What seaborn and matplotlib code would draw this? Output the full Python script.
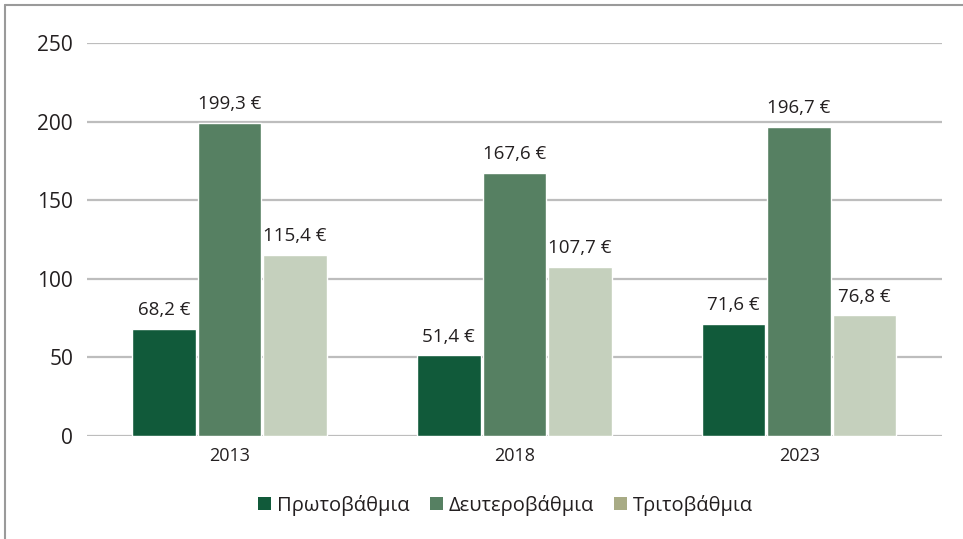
import seaborn as sns
import matplotlib.pyplot as plt
import pandas as pd
from matplotlib.lines import Line2D
from matplotlib.patches import Patch

## Data
years = ['2013', '2018', '2023']
series = ['Πρωτοβάθμια', 'Δευτεροβάθμια', 'Τριτοβάθμια']
primary = [68.2, 51.4, 71.6]
secondary = [199.3, 167.6, 196.7]
tertiary = [115.4, 107.7, 76.8]

bar_colors = ['#115a3a', '#568062', '#c5d0bd']
legend_colors = ['#115a3a', '#568062', '#a8ab85']
text_color = '#231f20'

df = pd.DataFrame({'year': years * 3,
                   'level': [s for s in series for _ in years],
                   'value': primary + secondary + tertiary})

sns.set_style('white')
plt.rcParams['font.family'] = ['Open Sans', 'DejaVu Sans']

fig = plt.figure(figsize=(9.63, 5.39), dpi=100)
ax = fig.add_axes([0.0903, 0.191, 0.8875, 0.729])

sns.barplot(data=df, x='year', y='value', hue='level', palette=bar_colors,
            width=0.69, gap=0.03, ax=ax, legend=False, saturation=1)

ax.set_ylim(0, 250)
ax.set_xlim(-0.5, 2.5)
ax.set_yticks([0, 50, 100, 150, 200, 250])
ax.yaxis.grid(True, color='#bdbdbd', linewidth=1.6)
ax.set_axisbelow(True)
for s in ax.spines.values():
    s.set_visible(False)
ax.tick_params(axis='y', labelsize=15, colors=text_color, length=0, pad=10)
ax.tick_params(axis='x', labelsize=13, colors=text_color, length=0, pad=8)
ax.set_xlabel('')
ax.set_ylabel('')

# value labels
for container in ax.containers:
    labels = [f'{v:.1f} €'.replace('.', ',') for v in container.datavalues]
    ax.bar_label(container, labels=labels, padding=7, fontsize=13.5, color=text_color)

handles = [Patch(facecolor=c, edgecolor='none') for c in legend_colors]
fig.legend(handles, series, loc='center', bbox_to_anchor=(0.525, 0.063), ncol=3,
           frameon=False, fontsize=14.5, handlelength=0.65, handleheight=0.65,
           handletextpad=0.3, columnspacing=1.0, labelcolor=text_color)

# frame lines on left and top
fig.add_artist(Line2D([5 / 963, 5 / 963], [0, 1 - 5 / 539], color='#9a9a9a', linewidth=1.5))
fig.add_artist(Line2D([5 / 963, 1], [1 - 5 / 539, 1 - 5 / 539], color='#9a9a9a', linewidth=1.5))

fig.savefig('out.png', dpi=100)
